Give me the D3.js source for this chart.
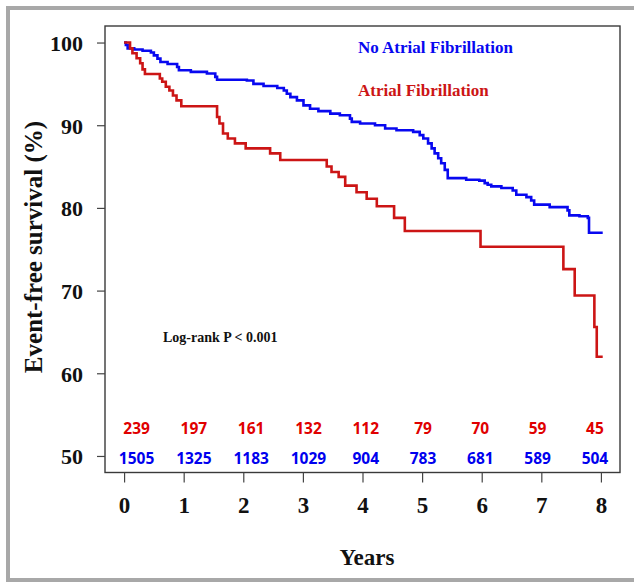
<!DOCTYPE html>
<html><head><meta charset="utf-8">
<script src="https://cdn.jsdelivr.net/npm/d3@7"></script>
<style>
html,body{margin:0;padding:0;background:#fff;}
svg{display:block;}
</style></head>
<body>
<svg id="chart" width="634" height="582"></svg>
<script>
// ---- data ----
const yearTicks = [0,1,2,3,4,5,6,7,8];
const survTicks = [50,60,70,80,90,100];

const noAfTimes = [0,0.03,0.06,0.17,0.31,0.45,0.50,0.56,0.61,0.73,0.89,0.92,1.12,1.39,1.53,1.56,2.06,2.17,2.34,2.57,2.68,2.73,2.79,2.90,3.01,3.12,3.26,3.46,3.62,3.79,3.82,3.96,4.21,4.38,4.57,4.85,4.96,5.02,5.10,5.16,5.21,5.27,5.32,5.38,5.43,5.74,5.96,6.05,6.10,6.16,6.33,6.52,6.58,6.75,6.83,6.88,7.14,7.44,7.47,7.64,7.78,7.80,8.03];
const noAfSurv  = [100,99.7,99.3,99.15,99.0,98.8,98.45,98.05,97.65,97.4,97.05,96.65,96.45,96.25,95.85,95.5,95.4,95.0,94.75,94.5,94.2,93.8,93.4,93.0,92.4,92.0,91.7,91.4,91.2,90.8,90.4,90.2,90.0,89.6,89.4,89.2,88.8,88.4,87.8,87.2,86.6,86.0,85.4,84.6,83.6,83.4,83.3,83.0,82.8,82.6,82.4,82.1,81.6,81.3,80.9,80.4,80.1,79.7,79.1,79.0,78.8,77.0,77.0];

const afTimes = [0,0.10,0.14,0.21,0.27,0.31,0.35,0.60,0.64,0.70,0.76,0.82,0.88,0.96,1.56,1.60,1.66,1.74,1.86,2.04,2.45,2.62,3.40,3.48,3.60,3.71,3.90,4.07,4.24,4.53,4.71,5.98,7.37,7.56,7.89,7.93,8.03];
const afSurv  = [100,99.3,98.7,98.1,97.5,96.75,96.2,95.65,95.25,94.65,94.2,93.6,93.0,92.3,91.0,90.2,89.0,88.4,87.8,87.2,86.6,85.8,85.0,84.35,83.75,82.7,81.9,81.1,80.2,78.8,77.2,75.3,72.6,69.4,65.6,62.0,62.0];

const riskAf   = [239,197,161,132,112,79,70,59,45];
const riskNoAf = [1505,1325,1183,1029,904,783,681,589,504];

const labelNoAf = "No Atrial Fibrillation";
const labelAf = "Atrial Fibrillation";
const yTitle = "Event-free survival (%)";
const xTitle = "Years";
const pText = "Log-rank P < 0.001";

// ---- layout ----
const BLUE = "#0808f0", RED = "#cc1515";
const svg = d3.select("#chart");
const serif = "'Liberation Serif','Times New Roman',serif";

// outer frame
svg.append("rect").attr("x",8).attr("y",8).attr("width",640).attr("height",572)
  .attr("fill","none").attr("stroke","#a8a8a8").attr("stroke-width",4);

const x = d3.scaleLinear().domain([-0.32,8.32]).range([105,620]);
const y = d3.scaleLinear().domain([48,102]).range([472.5,26]);

// plot box
svg.append("rect").attr("x",x.range()[0]).attr("y",y.range()[1])
  .attr("width",x.range()[1]-x.range()[0]).attr("height",y.range()[0]-y.range()[1])
  .attr("fill","none").attr("stroke","#3a3a3a").attr("stroke-width",1.4);

// y axis
const yAxis = svg.append("g").attr("transform",`translate(${x.range()[0]},0)`)
  .call(d3.axisLeft(y).tickValues(survTicks).tickSize(8).tickPadding(14).tickFormat(d3.format("d")));
yAxis.select(".domain").remove();
yAxis.selectAll("line").attr("stroke","#444").attr("stroke-width",1.2);
yAxis.selectAll("text").attr("font-family",serif).attr("font-weight","bold")
  .attr("font-size",22).attr("fill","#111").attr("dy","0.36em");

// x axis
const xAxis = svg.append("g").attr("transform",`translate(0,${y.range()[0]})`)
  .call(d3.axisBottom(x).tickValues(yearTicks).tickSize(10).tickPadding(14).tickFormat(d3.format("d")));
xAxis.select(".domain").remove();
xAxis.selectAll("line").attr("stroke","#444").attr("stroke-width",1.2);
xAxis.selectAll("text").attr("font-family",serif).attr("font-weight","bold")
  .attr("font-size",23).attr("fill","#111").attr("dy","0.71em");

// curves (red drawn last, on top)
const line = d3.line().curve(d3.curveStepAfter).x(d=>x(d[0])).y(d=>y(d[1]));
svg.append("path").datum(noAfTimes.map((t,i)=>[t,noAfSurv[i]]))
  .attr("d",line).attr("fill","none").attr("stroke",BLUE).attr("stroke-width",2.6);
svg.append("path").datum(afTimes.map((t,i)=>[t,afSurv[i]]))
  .attr("d",line).attr("fill","none").attr("stroke",RED).attr("stroke-width",2.6);

// legend
svg.append("text").attr("x",358).attr("y",52.5).text(labelNoAf)
  .attr("font-family",serif).attr("font-weight","bold").attr("font-size",17).attr("fill",BLUE);
svg.append("text").attr("x",358).attr("y",95.5).text(labelAf)
  .attr("font-family",serif).attr("font-weight","bold").attr("font-size",17).attr("fill",RED);

// p value
svg.append("text").attr("x",163).attr("y",341.5).text(pText)
  .attr("font-family",serif).attr("font-weight","bold").attr("font-size",14).attr("fill","#111");

// numbers at risk
const riskX = d3.scaleLinear().domain([0,8]).range([x(0)+12.5, x(8)-6]);
const sans = "'Open Sans','Noto Sans',sans-serif";
svg.append("g").selectAll("text").data(riskAf).join("text")
  .attr("x",(d,i)=>riskX(yearTicks[i])).attr("y",434).attr("text-anchor","middle")
  .attr("font-family",sans).attr("font-weight","bold").attr("font-size",15.5).attr("fill","#e00000")
  .text(d=>d);
svg.append("g").selectAll("text").data(riskNoAf).join("text")
  .attr("x",(d,i)=>riskX(yearTicks[i])).attr("y",464).attr("text-anchor","middle")
  .attr("font-family",sans).attr("font-weight","bold").attr("font-size",15.5).attr("fill","#0000ee")
  .text(d=>d);

// axis titles
svg.append("text").attr("x",367).attr("y",565).attr("text-anchor","middle").text(xTitle)
  .attr("font-family",serif).attr("font-weight","bold").attr("font-size",23).attr("fill","#111");
svg.append("text").attr("transform","translate(42,247) rotate(-90)").attr("text-anchor","middle")
  .text(yTitle).attr("font-family",serif).attr("font-weight","bold").attr("font-size",25).attr("fill","#111");
</script>
</body></html>
